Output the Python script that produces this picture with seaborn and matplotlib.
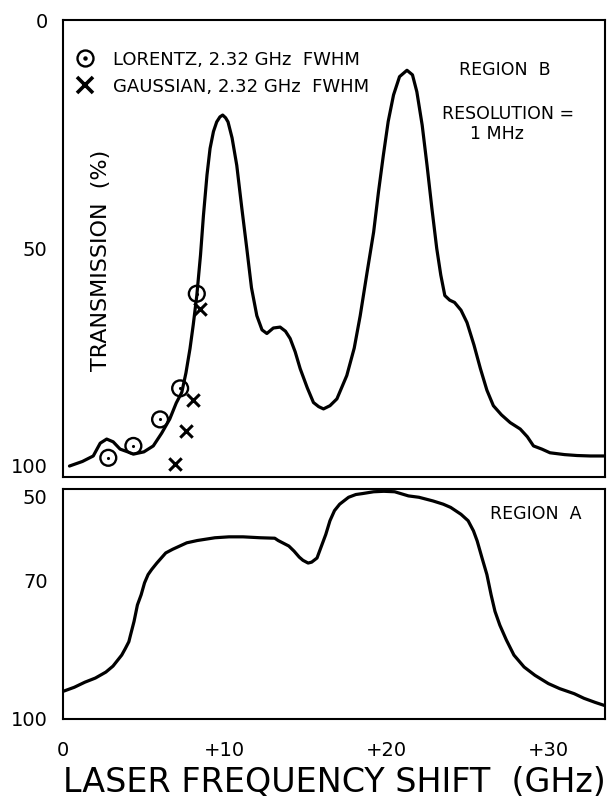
import matplotlib
matplotlib.use("Agg")
import matplotlib.pyplot as plt
from matplotlib.lines import Line2D
from matplotlib.legend_handler import HandlerTuple
import seaborn as sns

# ---------------- data ----------------
# Region B transmission curve (GHz, %)
top_x = [0.4, 1.2, 1.87, 2.3, 2.7, 3.1, 3.53, 4.0, 4.35, 5.0, 5.58, 6.1, 6.6, 7.0,
         7.34, 7.6, 7.85, 8.05, 8.27, 8.5, 8.68, 8.9, 9.09, 9.3, 9.5, 9.7, 9.87,
         10.05, 10.2, 10.45, 10.74, 11.05, 11.36, 11.65, 11.98, 12.3, 12.6, 13.0,
         13.42, 13.75, 14.04, 14.35, 14.66, 15.1, 15.48, 15.8, 16.1, 16.5, 16.93,
         17.54, 18.0, 18.37, 18.8, 19.2, 19.5, 19.8, 20.1, 20.43, 20.8, 21.26,
         21.6, 21.87, 22.2, 22.5, 22.8, 23.1, 23.35, 23.6, 23.9, 24.2, 24.6,
         24.97, 25.4, 25.8, 26.2, 26.6, 27.1, 27.64, 28.26, 28.7, 29.08, 29.6,
         30.1, 31.0, 31.77, 32.6, 33.5]
top_y = [97.6, 96.6, 95.4, 92.6, 91.7, 92.3, 93.9, 94.5, 95.0, 94.5, 93.2, 90.4,
         87.3, 83.8, 81.5, 77.2, 71.9, 66.7, 60.3, 51.4, 42.8, 33.9, 28.1, 24.4,
         22.3, 21.2, 20.8, 21.4, 22.3, 25.8, 31.8, 41.1, 50.0, 58.6, 64.7, 67.8,
         68.6, 67.4, 67.2, 68.1, 69.7, 72.6, 76.3, 80.5, 83.7, 84.6, 85.1, 84.4,
         82.9, 77.8, 71.8, 64.7, 55.1, 46.4, 37.6, 29.6, 22.2, 16.4, 12.4, 11.0,
         12.0, 15.7, 23.0, 31.8, 41.2, 50.0, 55.8, 60.3, 61.3, 61.8, 63.5, 66.2,
         71.1, 76.3, 81.0, 84.4, 86.4, 88.1, 89.5, 91.2, 93.2, 93.9, 94.7, 95.1,
         95.3, 95.4, 95.4]

# Lorentz (2.32 GHz FWHM) fit points
lor_x = [2.8, 4.35, 6.0, 7.24, 8.27]
lor_y = [95.8, 93.2, 87.4, 80.6, 59.9]
# Gaussian (2.32 GHz FWHM) fit points
gau_x = [6.93, 7.6, 8.02, 8.47]
gau_y = [97.2, 89.9, 83.2, 63.2]

# Region A transmission curve (GHz, %)
bot_x = [0.0, 0.7, 1.35, 2.0, 2.65, 3.09, 3.63, 3.85, 4.07, 4.17, 4.39, 4.6, 4.83,
         5.04, 5.26, 5.48, 5.8, 6.35, 6.78, 7.65, 8.3, 9.39, 10.26, 11.13, 12.2,
         13.09, 13.3, 13.96, 14.28, 14.6, 14.83, 15.15, 15.37, 15.7, 15.9, 16.24,
         16.5, 16.78, 17.1, 17.65, 18.1, 18.5, 19.2, 19.83, 20.5, 21.35, 22.0,
         22.87, 23.5, 23.96, 24.6, 25.04, 25.37, 25.6, 25.9, 26.2, 26.46, 26.7,
         27.0, 27.4, 27.87, 28.5, 29.17, 30.0, 30.7, 31.6, 32.2, 32.9, 33.5]
bot_y = [94.0, 93.1, 92.0, 91.1, 89.8, 88.5, 86.1, 84.7, 83.2, 81.8, 78.8, 75.2,
         73.0, 70.4, 68.6, 67.5, 66.1, 63.9, 63.1, 61.7, 61.2, 60.6, 60.4, 60.4,
         60.6, 60.7, 61.2, 62.4, 63.5, 64.8, 65.5, 66.1, 65.9, 65.0, 63.1, 59.9,
         56.9, 54.7, 53.3, 51.8, 51.2, 51.0, 50.6, 50.5, 50.6, 51.5, 51.8, 52.6,
         53.3, 54.0, 55.5, 56.9, 59.1, 61.3, 65.0, 68.6, 73.0, 76.6, 79.6, 82.8,
         86.1, 88.7, 90.5, 92.3, 93.4, 94.5, 95.5, 96.4, 97.1]

x_ticks = [0, 5, 10, 15, 20, 25, 30]
x_tick_labels = ["0", "", "+10", "", "+20", "", "+30"]
top_y_ticks = [0, 50, 100]
bot_y_ticks = [50, 70, 100]

# ---------------- style ----------------
sns.set_style("white")
plt.rcParams['font.family'] = ['DejaVu Sans']
plt.rcParams.update({"text.color": "black", "axes.labelcolor": "black",
                     "xtick.color": "black", "ytick.color": "black"})

W, H = 607, 802
fig = plt.figure(figsize=(W / 100, H / 100), dpi=100)
ax1 = fig.add_axes([63 / W, 1 - 477 / H, 542 / W, 457 / H])
ax2 = fig.add_axes([63 / W, 1 - 719 / H, 542 / W, 230 / H])

LW = 2.3

# ---------------- top panel ----------------
sns.lineplot(x=top_x, y=top_y, ax=ax1, color="black", linewidth=LW,
             estimator=None, sort=False, legend=False,
             solid_joinstyle="round", solid_capstyle="round")
sns.scatterplot(x=lor_x, y=lor_y, ax=ax1, marker="o", s=130, facecolor="none",
                edgecolor="black", linewidth=1.7, zorder=3, legend=False)
sns.scatterplot(x=lor_x, y=lor_y, ax=ax1, marker="o", s=5, color="black",
                edgecolor="black", linewidth=0, zorder=4, legend=False)
sns.scatterplot(x=gau_x, y=gau_y, ax=ax1, marker="x", s=80, color="black",
                linewidth=2.2, zorder=3, legend=False)

ax1.set_ylim(100, 0)
ax1.set_xticks(x_ticks[1:])
ax1.set_xticklabels([])
ax1.set_yticks(top_y_ticks)
ax1.set_yticklabels([str(v) for v in top_y_ticks])
ax1.set_xlabel("")
ax1.set_ylabel("TRANSMISSION  (%)", fontsize=16, color="black")
ax1.yaxis.set_label_coords(0.088, 0.475)

h_lor = (Line2D([], [], marker="o", ms=11.5, mfc="none", mec="black", mew=1.7, ls="none"),
         Line2D([], [], marker="o", ms=2.2, mfc="black", mec="black", ls="none"))
h_gau = Line2D([], [], marker="x", ms=11, mec="black", mew=2.6, ls="none")
ax1.legend([h_lor, h_gau],
           ["LORENTZ, 2.32 GHz  FWHM", "GAUSSIAN, 2.32 GHz  FWHM"],
           handler_map={tuple: HandlerTuple(ndivide=1, pad=0)},
           loc="upper left", bbox_to_anchor=(0.02, 0.933), frameon=False,
           fontsize=13, handlelength=1.2, handletextpad=0.95, labelspacing=0.5,
           borderpad=0, borderaxespad=0)

ax1.text(27.3, 10.9, "REGION  B", ha="center", va="center", fontsize=12.5)
ax1.text(27.5, 20.6, "RESOLUTION =", ha="center", va="center", fontsize=12.5)
ax1.text(26.8, 24.9, "1 MHz", ha="center", va="center", fontsize=12.5)

# ---------------- bottom panel ----------------
sns.lineplot(x=bot_x, y=bot_y, ax=ax2, color="black", linewidth=LW,
             estimator=None, sort=False, legend=False,
             solid_joinstyle="round", solid_capstyle="round")
ax2.set_ylim(100, 50)
ax2.set_xticks(x_ticks)
ax2.set_xticklabels(x_tick_labels)
ax2.set_yticks(bot_y_ticks)
ax2.set_yticklabels([str(v) for v in bot_y_ticks])
ax2.set_ylabel("")
ax2.set_xlabel("LASER FREQUENCY SHIFT  (GHz)", fontsize=24, color="black",
               labelpad=4.5)
ax2.text(29.25, 55.4, "REGION  A", ha="center", va="center", fontsize=12.5)

for ax in (ax1, ax2):
    for s in ax.spines.values():
        s.set_visible(True)
        s.set_color("black")
        s.set_linewidth(1.5)
    ax.tick_params(direction="in", length=9.5, width=1.4, colors="black",
                   labelsize=14, labelcolor="black")
    ax.tick_params(axis="y", pad=11)
    ax.set_xlim(0, 33.5)
    ax.grid(False)
ax2.tick_params(axis="x", pad=16)

# keep the shared-edge labels apart as in the original
ax1.get_yticklabels()[-1].set_va("bottom")
ax2.get_yticklabels()[0].set_va("top")

fig.savefig("out.png", dpi=100, facecolor="white")
